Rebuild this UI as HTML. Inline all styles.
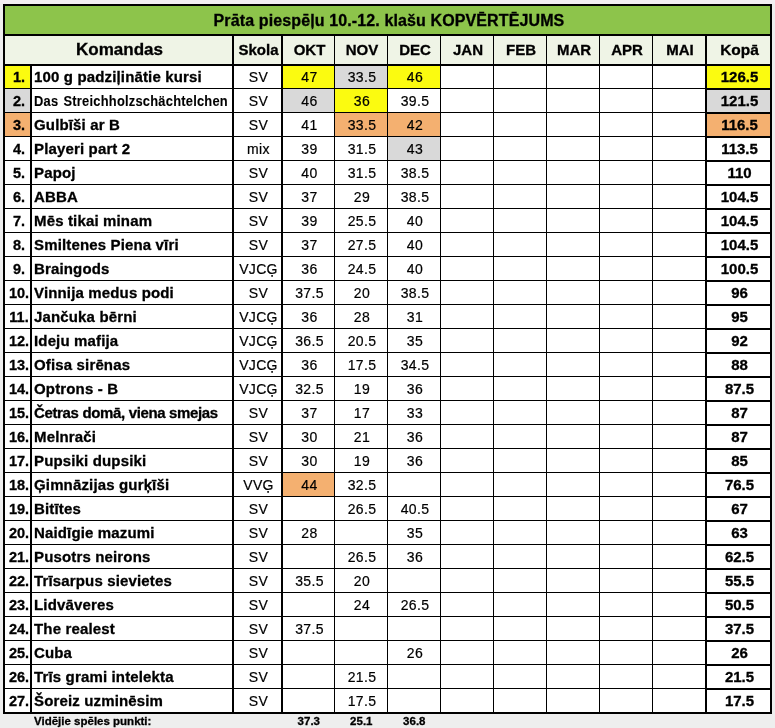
<!DOCTYPE html>
<html><head><meta charset="utf-8"><style>
html,body{margin:0;padding:0}
body{width:775px;height:728px;background:#eeeeee;position:relative;overflow:hidden;font-family:"Liberation Sans",sans-serif;color:#000}
.r{position:absolute}
.t{position:absolute;line-height:normal;white-space:nowrap}
.b{font-weight:bold;-webkit-text-stroke:0.3px #000}
.n{font-weight:normal;-webkit-text-stroke:0.2px #000;letter-spacing:0.35px}
</style></head><body>
<div class="r" style="left:0px;top:0px;width:775px;height:4px;background:#f2eff2"></div>
<div class="r" style="left:3px;top:4px;width:769px;height:710px;background:#000"></div>
<div class="r" style="left:5px;top:6px;width:765px;height:28px;background:#8dc44b"></div>
<div class="r" style="left:5px;top:36px;width:227px;height:28px;background:#eff4e6"></div>
<div class="r" style="left:234px;top:36px;width:47px;height:28px;background:#eff4e6"></div>
<div class="r" style="left:283px;top:36px;width:51px;height:28px;background:#eff4e6"></div>
<div class="r" style="left:335px;top:36px;width:52px;height:28px;background:#eff4e6"></div>
<div class="r" style="left:388px;top:36px;width:52px;height:28px;background:#eff4e6"></div>
<div class="r" style="left:441px;top:36px;width:52px;height:28px;background:#eff4e6"></div>
<div class="r" style="left:494px;top:36px;width:52px;height:28px;background:#eff4e6"></div>
<div class="r" style="left:547px;top:36px;width:52px;height:28px;background:#eff4e6"></div>
<div class="r" style="left:600px;top:36px;width:52px;height:28px;background:#eff4e6"></div>
<div class="r" style="left:653px;top:36px;width:52px;height:28px;background:#eff4e6"></div>
<div class="r" style="left:707px;top:36px;width:63px;height:28px;background:#eff4e6"></div>
<div class="r" style="left:5px;top:66px;width:25px;height:22px;background:#fbfb10"></div>
<div class="r" style="left:32px;top:66px;width:200px;height:22px;background:#fff"></div>
<div class="r" style="left:234px;top:66px;width:47px;height:22px;background:#fff"></div>
<div class="r" style="left:283px;top:66px;width:51px;height:22px;background:#fbfb10"></div>
<div class="r" style="left:335px;top:66px;width:52px;height:22px;background:#d9d9d9"></div>
<div class="r" style="left:388px;top:66px;width:52px;height:22px;background:#fbfb10"></div>
<div class="r" style="left:441px;top:66px;width:52px;height:22px;background:#fff"></div>
<div class="r" style="left:494px;top:66px;width:52px;height:22px;background:#fff"></div>
<div class="r" style="left:547px;top:66px;width:52px;height:22px;background:#fff"></div>
<div class="r" style="left:600px;top:66px;width:52px;height:22px;background:#fff"></div>
<div class="r" style="left:653px;top:66px;width:52px;height:22px;background:#fff"></div>
<div class="r" style="left:707px;top:66px;width:63px;height:22px;background:#fbfb10"></div>
<div class="r" style="left:5px;top:89px;width:25px;height:23px;background:#d9d9d9"></div>
<div class="r" style="left:32px;top:89px;width:200px;height:23px;background:#fff"></div>
<div class="r" style="left:234px;top:89px;width:47px;height:23px;background:#fff"></div>
<div class="r" style="left:283px;top:89px;width:51px;height:23px;background:#d9d9d9"></div>
<div class="r" style="left:335px;top:89px;width:52px;height:23px;background:#fbfb10"></div>
<div class="r" style="left:388px;top:89px;width:52px;height:23px;background:#fff"></div>
<div class="r" style="left:441px;top:89px;width:52px;height:23px;background:#fff"></div>
<div class="r" style="left:494px;top:89px;width:52px;height:23px;background:#fff"></div>
<div class="r" style="left:547px;top:89px;width:52px;height:23px;background:#fff"></div>
<div class="r" style="left:600px;top:89px;width:52px;height:23px;background:#fff"></div>
<div class="r" style="left:653px;top:89px;width:52px;height:23px;background:#fff"></div>
<div class="r" style="left:707px;top:90px;width:63px;height:22px;background:#d9d9d9"></div>
<div class="r" style="left:5px;top:113px;width:25px;height:23px;background:#f4b070"></div>
<div class="r" style="left:32px;top:113px;width:200px;height:23px;background:#fff"></div>
<div class="r" style="left:234px;top:113px;width:47px;height:23px;background:#fff"></div>
<div class="r" style="left:283px;top:113px;width:51px;height:23px;background:#fff"></div>
<div class="r" style="left:335px;top:113px;width:52px;height:23px;background:#f4b070"></div>
<div class="r" style="left:388px;top:113px;width:52px;height:23px;background:#f4b070"></div>
<div class="r" style="left:441px;top:113px;width:52px;height:23px;background:#fff"></div>
<div class="r" style="left:494px;top:113px;width:52px;height:23px;background:#fff"></div>
<div class="r" style="left:547px;top:113px;width:52px;height:23px;background:#fff"></div>
<div class="r" style="left:600px;top:113px;width:52px;height:23px;background:#fff"></div>
<div class="r" style="left:653px;top:113px;width:52px;height:23px;background:#fff"></div>
<div class="r" style="left:707px;top:114px;width:63px;height:22px;background:#f4b070"></div>
<div class="r" style="left:5px;top:137px;width:25px;height:23px;background:#fff"></div>
<div class="r" style="left:32px;top:137px;width:200px;height:23px;background:#fff"></div>
<div class="r" style="left:234px;top:137px;width:47px;height:23px;background:#fff"></div>
<div class="r" style="left:283px;top:137px;width:51px;height:23px;background:#fff"></div>
<div class="r" style="left:335px;top:137px;width:52px;height:23px;background:#fff"></div>
<div class="r" style="left:388px;top:137px;width:52px;height:23px;background:#d9d9d9"></div>
<div class="r" style="left:441px;top:137px;width:52px;height:23px;background:#fff"></div>
<div class="r" style="left:494px;top:137px;width:52px;height:23px;background:#fff"></div>
<div class="r" style="left:547px;top:137px;width:52px;height:23px;background:#fff"></div>
<div class="r" style="left:600px;top:137px;width:52px;height:23px;background:#fff"></div>
<div class="r" style="left:653px;top:137px;width:52px;height:23px;background:#fff"></div>
<div class="r" style="left:707px;top:138px;width:63px;height:22px;background:#fff"></div>
<div class="r" style="left:5px;top:161px;width:25px;height:23px;background:#fff"></div>
<div class="r" style="left:32px;top:161px;width:200px;height:23px;background:#fff"></div>
<div class="r" style="left:234px;top:161px;width:47px;height:23px;background:#fff"></div>
<div class="r" style="left:283px;top:161px;width:51px;height:23px;background:#fff"></div>
<div class="r" style="left:335px;top:161px;width:52px;height:23px;background:#fff"></div>
<div class="r" style="left:388px;top:161px;width:52px;height:23px;background:#fff"></div>
<div class="r" style="left:441px;top:161px;width:52px;height:23px;background:#fff"></div>
<div class="r" style="left:494px;top:161px;width:52px;height:23px;background:#fff"></div>
<div class="r" style="left:547px;top:161px;width:52px;height:23px;background:#fff"></div>
<div class="r" style="left:600px;top:161px;width:52px;height:23px;background:#fff"></div>
<div class="r" style="left:653px;top:161px;width:52px;height:23px;background:#fff"></div>
<div class="r" style="left:707px;top:162px;width:63px;height:22px;background:#fff"></div>
<div class="r" style="left:5px;top:185px;width:25px;height:23px;background:#fff"></div>
<div class="r" style="left:32px;top:185px;width:200px;height:23px;background:#fff"></div>
<div class="r" style="left:234px;top:185px;width:47px;height:23px;background:#fff"></div>
<div class="r" style="left:283px;top:185px;width:51px;height:23px;background:#fff"></div>
<div class="r" style="left:335px;top:185px;width:52px;height:23px;background:#fff"></div>
<div class="r" style="left:388px;top:185px;width:52px;height:23px;background:#fff"></div>
<div class="r" style="left:441px;top:185px;width:52px;height:23px;background:#fff"></div>
<div class="r" style="left:494px;top:185px;width:52px;height:23px;background:#fff"></div>
<div class="r" style="left:547px;top:185px;width:52px;height:23px;background:#fff"></div>
<div class="r" style="left:600px;top:185px;width:52px;height:23px;background:#fff"></div>
<div class="r" style="left:653px;top:185px;width:52px;height:23px;background:#fff"></div>
<div class="r" style="left:707px;top:186px;width:63px;height:22px;background:#fff"></div>
<div class="r" style="left:5px;top:209px;width:25px;height:23px;background:#fff"></div>
<div class="r" style="left:32px;top:209px;width:200px;height:23px;background:#fff"></div>
<div class="r" style="left:234px;top:209px;width:47px;height:23px;background:#fff"></div>
<div class="r" style="left:283px;top:209px;width:51px;height:23px;background:#fff"></div>
<div class="r" style="left:335px;top:209px;width:52px;height:23px;background:#fff"></div>
<div class="r" style="left:388px;top:209px;width:52px;height:23px;background:#fff"></div>
<div class="r" style="left:441px;top:209px;width:52px;height:23px;background:#fff"></div>
<div class="r" style="left:494px;top:209px;width:52px;height:23px;background:#fff"></div>
<div class="r" style="left:547px;top:209px;width:52px;height:23px;background:#fff"></div>
<div class="r" style="left:600px;top:209px;width:52px;height:23px;background:#fff"></div>
<div class="r" style="left:653px;top:209px;width:52px;height:23px;background:#fff"></div>
<div class="r" style="left:707px;top:210px;width:63px;height:22px;background:#fff"></div>
<div class="r" style="left:5px;top:233px;width:25px;height:23px;background:#fff"></div>
<div class="r" style="left:32px;top:233px;width:200px;height:23px;background:#fff"></div>
<div class="r" style="left:234px;top:233px;width:47px;height:23px;background:#fff"></div>
<div class="r" style="left:283px;top:233px;width:51px;height:23px;background:#fff"></div>
<div class="r" style="left:335px;top:233px;width:52px;height:23px;background:#fff"></div>
<div class="r" style="left:388px;top:233px;width:52px;height:23px;background:#fff"></div>
<div class="r" style="left:441px;top:233px;width:52px;height:23px;background:#fff"></div>
<div class="r" style="left:494px;top:233px;width:52px;height:23px;background:#fff"></div>
<div class="r" style="left:547px;top:233px;width:52px;height:23px;background:#fff"></div>
<div class="r" style="left:600px;top:233px;width:52px;height:23px;background:#fff"></div>
<div class="r" style="left:653px;top:233px;width:52px;height:23px;background:#fff"></div>
<div class="r" style="left:707px;top:234px;width:63px;height:22px;background:#fff"></div>
<div class="r" style="left:5px;top:257px;width:25px;height:23px;background:#fff"></div>
<div class="r" style="left:32px;top:257px;width:200px;height:23px;background:#fff"></div>
<div class="r" style="left:234px;top:257px;width:47px;height:23px;background:#fff"></div>
<div class="r" style="left:283px;top:257px;width:51px;height:23px;background:#fff"></div>
<div class="r" style="left:335px;top:257px;width:52px;height:23px;background:#fff"></div>
<div class="r" style="left:388px;top:257px;width:52px;height:23px;background:#fff"></div>
<div class="r" style="left:441px;top:257px;width:52px;height:23px;background:#fff"></div>
<div class="r" style="left:494px;top:257px;width:52px;height:23px;background:#fff"></div>
<div class="r" style="left:547px;top:257px;width:52px;height:23px;background:#fff"></div>
<div class="r" style="left:600px;top:257px;width:52px;height:23px;background:#fff"></div>
<div class="r" style="left:653px;top:257px;width:52px;height:23px;background:#fff"></div>
<div class="r" style="left:707px;top:258px;width:63px;height:22px;background:#fff"></div>
<div class="r" style="left:5px;top:281px;width:25px;height:23px;background:#fff"></div>
<div class="r" style="left:32px;top:281px;width:200px;height:23px;background:#fff"></div>
<div class="r" style="left:234px;top:281px;width:47px;height:23px;background:#fff"></div>
<div class="r" style="left:283px;top:281px;width:51px;height:23px;background:#fff"></div>
<div class="r" style="left:335px;top:281px;width:52px;height:23px;background:#fff"></div>
<div class="r" style="left:388px;top:281px;width:52px;height:23px;background:#fff"></div>
<div class="r" style="left:441px;top:281px;width:52px;height:23px;background:#fff"></div>
<div class="r" style="left:494px;top:281px;width:52px;height:23px;background:#fff"></div>
<div class="r" style="left:547px;top:281px;width:52px;height:23px;background:#fff"></div>
<div class="r" style="left:600px;top:281px;width:52px;height:23px;background:#fff"></div>
<div class="r" style="left:653px;top:281px;width:52px;height:23px;background:#fff"></div>
<div class="r" style="left:707px;top:282px;width:63px;height:22px;background:#fff"></div>
<div class="r" style="left:5px;top:305px;width:25px;height:23px;background:#fff"></div>
<div class="r" style="left:32px;top:305px;width:200px;height:23px;background:#fff"></div>
<div class="r" style="left:234px;top:305px;width:47px;height:23px;background:#fff"></div>
<div class="r" style="left:283px;top:305px;width:51px;height:23px;background:#fff"></div>
<div class="r" style="left:335px;top:305px;width:52px;height:23px;background:#fff"></div>
<div class="r" style="left:388px;top:305px;width:52px;height:23px;background:#fff"></div>
<div class="r" style="left:441px;top:305px;width:52px;height:23px;background:#fff"></div>
<div class="r" style="left:494px;top:305px;width:52px;height:23px;background:#fff"></div>
<div class="r" style="left:547px;top:305px;width:52px;height:23px;background:#fff"></div>
<div class="r" style="left:600px;top:305px;width:52px;height:23px;background:#fff"></div>
<div class="r" style="left:653px;top:305px;width:52px;height:23px;background:#fff"></div>
<div class="r" style="left:707px;top:306px;width:63px;height:22px;background:#fff"></div>
<div class="r" style="left:5px;top:329px;width:25px;height:23px;background:#fff"></div>
<div class="r" style="left:32px;top:329px;width:200px;height:23px;background:#fff"></div>
<div class="r" style="left:234px;top:329px;width:47px;height:23px;background:#fff"></div>
<div class="r" style="left:283px;top:329px;width:51px;height:23px;background:#fff"></div>
<div class="r" style="left:335px;top:329px;width:52px;height:23px;background:#fff"></div>
<div class="r" style="left:388px;top:329px;width:52px;height:23px;background:#fff"></div>
<div class="r" style="left:441px;top:329px;width:52px;height:23px;background:#fff"></div>
<div class="r" style="left:494px;top:329px;width:52px;height:23px;background:#fff"></div>
<div class="r" style="left:547px;top:329px;width:52px;height:23px;background:#fff"></div>
<div class="r" style="left:600px;top:329px;width:52px;height:23px;background:#fff"></div>
<div class="r" style="left:653px;top:329px;width:52px;height:23px;background:#fff"></div>
<div class="r" style="left:707px;top:330px;width:63px;height:22px;background:#fff"></div>
<div class="r" style="left:5px;top:353px;width:25px;height:23px;background:#fff"></div>
<div class="r" style="left:32px;top:353px;width:200px;height:23px;background:#fff"></div>
<div class="r" style="left:234px;top:353px;width:47px;height:23px;background:#fff"></div>
<div class="r" style="left:283px;top:353px;width:51px;height:23px;background:#fff"></div>
<div class="r" style="left:335px;top:353px;width:52px;height:23px;background:#fff"></div>
<div class="r" style="left:388px;top:353px;width:52px;height:23px;background:#fff"></div>
<div class="r" style="left:441px;top:353px;width:52px;height:23px;background:#fff"></div>
<div class="r" style="left:494px;top:353px;width:52px;height:23px;background:#fff"></div>
<div class="r" style="left:547px;top:353px;width:52px;height:23px;background:#fff"></div>
<div class="r" style="left:600px;top:353px;width:52px;height:23px;background:#fff"></div>
<div class="r" style="left:653px;top:353px;width:52px;height:23px;background:#fff"></div>
<div class="r" style="left:707px;top:354px;width:63px;height:22px;background:#fff"></div>
<div class="r" style="left:5px;top:377px;width:25px;height:23px;background:#fff"></div>
<div class="r" style="left:32px;top:377px;width:200px;height:23px;background:#fff"></div>
<div class="r" style="left:234px;top:377px;width:47px;height:23px;background:#fff"></div>
<div class="r" style="left:283px;top:377px;width:51px;height:23px;background:#fff"></div>
<div class="r" style="left:335px;top:377px;width:52px;height:23px;background:#fff"></div>
<div class="r" style="left:388px;top:377px;width:52px;height:23px;background:#fff"></div>
<div class="r" style="left:441px;top:377px;width:52px;height:23px;background:#fff"></div>
<div class="r" style="left:494px;top:377px;width:52px;height:23px;background:#fff"></div>
<div class="r" style="left:547px;top:377px;width:52px;height:23px;background:#fff"></div>
<div class="r" style="left:600px;top:377px;width:52px;height:23px;background:#fff"></div>
<div class="r" style="left:653px;top:377px;width:52px;height:23px;background:#fff"></div>
<div class="r" style="left:707px;top:378px;width:63px;height:22px;background:#fff"></div>
<div class="r" style="left:5px;top:401px;width:25px;height:23px;background:#fff"></div>
<div class="r" style="left:32px;top:401px;width:200px;height:23px;background:#fff"></div>
<div class="r" style="left:234px;top:401px;width:47px;height:23px;background:#fff"></div>
<div class="r" style="left:283px;top:401px;width:51px;height:23px;background:#fff"></div>
<div class="r" style="left:335px;top:401px;width:52px;height:23px;background:#fff"></div>
<div class="r" style="left:388px;top:401px;width:52px;height:23px;background:#fff"></div>
<div class="r" style="left:441px;top:401px;width:52px;height:23px;background:#fff"></div>
<div class="r" style="left:494px;top:401px;width:52px;height:23px;background:#fff"></div>
<div class="r" style="left:547px;top:401px;width:52px;height:23px;background:#fff"></div>
<div class="r" style="left:600px;top:401px;width:52px;height:23px;background:#fff"></div>
<div class="r" style="left:653px;top:401px;width:52px;height:23px;background:#fff"></div>
<div class="r" style="left:707px;top:402px;width:63px;height:22px;background:#fff"></div>
<div class="r" style="left:5px;top:425px;width:25px;height:23px;background:#fff"></div>
<div class="r" style="left:32px;top:425px;width:200px;height:23px;background:#fff"></div>
<div class="r" style="left:234px;top:425px;width:47px;height:23px;background:#fff"></div>
<div class="r" style="left:283px;top:425px;width:51px;height:23px;background:#fff"></div>
<div class="r" style="left:335px;top:425px;width:52px;height:23px;background:#fff"></div>
<div class="r" style="left:388px;top:425px;width:52px;height:23px;background:#fff"></div>
<div class="r" style="left:441px;top:425px;width:52px;height:23px;background:#fff"></div>
<div class="r" style="left:494px;top:425px;width:52px;height:23px;background:#fff"></div>
<div class="r" style="left:547px;top:425px;width:52px;height:23px;background:#fff"></div>
<div class="r" style="left:600px;top:425px;width:52px;height:23px;background:#fff"></div>
<div class="r" style="left:653px;top:425px;width:52px;height:23px;background:#fff"></div>
<div class="r" style="left:707px;top:426px;width:63px;height:22px;background:#fff"></div>
<div class="r" style="left:5px;top:449px;width:25px;height:23px;background:#fff"></div>
<div class="r" style="left:32px;top:449px;width:200px;height:23px;background:#fff"></div>
<div class="r" style="left:234px;top:449px;width:47px;height:23px;background:#fff"></div>
<div class="r" style="left:283px;top:449px;width:51px;height:23px;background:#fff"></div>
<div class="r" style="left:335px;top:449px;width:52px;height:23px;background:#fff"></div>
<div class="r" style="left:388px;top:449px;width:52px;height:23px;background:#fff"></div>
<div class="r" style="left:441px;top:449px;width:52px;height:23px;background:#fff"></div>
<div class="r" style="left:494px;top:449px;width:52px;height:23px;background:#fff"></div>
<div class="r" style="left:547px;top:449px;width:52px;height:23px;background:#fff"></div>
<div class="r" style="left:600px;top:449px;width:52px;height:23px;background:#fff"></div>
<div class="r" style="left:653px;top:449px;width:52px;height:23px;background:#fff"></div>
<div class="r" style="left:707px;top:450px;width:63px;height:22px;background:#fff"></div>
<div class="r" style="left:5px;top:473px;width:25px;height:23px;background:#fff"></div>
<div class="r" style="left:32px;top:473px;width:200px;height:23px;background:#fff"></div>
<div class="r" style="left:234px;top:473px;width:47px;height:23px;background:#fff"></div>
<div class="r" style="left:283px;top:473px;width:51px;height:23px;background:#f4b070"></div>
<div class="r" style="left:335px;top:473px;width:52px;height:23px;background:#fff"></div>
<div class="r" style="left:388px;top:473px;width:52px;height:23px;background:#fff"></div>
<div class="r" style="left:441px;top:473px;width:52px;height:23px;background:#fff"></div>
<div class="r" style="left:494px;top:473px;width:52px;height:23px;background:#fff"></div>
<div class="r" style="left:547px;top:473px;width:52px;height:23px;background:#fff"></div>
<div class="r" style="left:600px;top:473px;width:52px;height:23px;background:#fff"></div>
<div class="r" style="left:653px;top:473px;width:52px;height:23px;background:#fff"></div>
<div class="r" style="left:707px;top:474px;width:63px;height:22px;background:#fff"></div>
<div class="r" style="left:5px;top:497px;width:25px;height:23px;background:#fff"></div>
<div class="r" style="left:32px;top:497px;width:200px;height:23px;background:#fff"></div>
<div class="r" style="left:234px;top:497px;width:47px;height:23px;background:#fff"></div>
<div class="r" style="left:283px;top:497px;width:51px;height:23px;background:#fff"></div>
<div class="r" style="left:335px;top:497px;width:52px;height:23px;background:#fff"></div>
<div class="r" style="left:388px;top:497px;width:52px;height:23px;background:#fff"></div>
<div class="r" style="left:441px;top:497px;width:52px;height:23px;background:#fff"></div>
<div class="r" style="left:494px;top:497px;width:52px;height:23px;background:#fff"></div>
<div class="r" style="left:547px;top:497px;width:52px;height:23px;background:#fff"></div>
<div class="r" style="left:600px;top:497px;width:52px;height:23px;background:#fff"></div>
<div class="r" style="left:653px;top:497px;width:52px;height:23px;background:#fff"></div>
<div class="r" style="left:707px;top:498px;width:63px;height:22px;background:#fff"></div>
<div class="r" style="left:5px;top:521px;width:25px;height:23px;background:#fff"></div>
<div class="r" style="left:32px;top:521px;width:200px;height:23px;background:#fff"></div>
<div class="r" style="left:234px;top:521px;width:47px;height:23px;background:#fff"></div>
<div class="r" style="left:283px;top:521px;width:51px;height:23px;background:#fff"></div>
<div class="r" style="left:335px;top:521px;width:52px;height:23px;background:#fff"></div>
<div class="r" style="left:388px;top:521px;width:52px;height:23px;background:#fff"></div>
<div class="r" style="left:441px;top:521px;width:52px;height:23px;background:#fff"></div>
<div class="r" style="left:494px;top:521px;width:52px;height:23px;background:#fff"></div>
<div class="r" style="left:547px;top:521px;width:52px;height:23px;background:#fff"></div>
<div class="r" style="left:600px;top:521px;width:52px;height:23px;background:#fff"></div>
<div class="r" style="left:653px;top:521px;width:52px;height:23px;background:#fff"></div>
<div class="r" style="left:707px;top:522px;width:63px;height:22px;background:#fff"></div>
<div class="r" style="left:5px;top:545px;width:25px;height:23px;background:#fff"></div>
<div class="r" style="left:32px;top:545px;width:200px;height:23px;background:#fff"></div>
<div class="r" style="left:234px;top:545px;width:47px;height:23px;background:#fff"></div>
<div class="r" style="left:283px;top:545px;width:51px;height:23px;background:#fff"></div>
<div class="r" style="left:335px;top:545px;width:52px;height:23px;background:#fff"></div>
<div class="r" style="left:388px;top:545px;width:52px;height:23px;background:#fff"></div>
<div class="r" style="left:441px;top:545px;width:52px;height:23px;background:#fff"></div>
<div class="r" style="left:494px;top:545px;width:52px;height:23px;background:#fff"></div>
<div class="r" style="left:547px;top:545px;width:52px;height:23px;background:#fff"></div>
<div class="r" style="left:600px;top:545px;width:52px;height:23px;background:#fff"></div>
<div class="r" style="left:653px;top:545px;width:52px;height:23px;background:#fff"></div>
<div class="r" style="left:707px;top:546px;width:63px;height:22px;background:#fff"></div>
<div class="r" style="left:5px;top:569px;width:25px;height:23px;background:#fff"></div>
<div class="r" style="left:32px;top:569px;width:200px;height:23px;background:#fff"></div>
<div class="r" style="left:234px;top:569px;width:47px;height:23px;background:#fff"></div>
<div class="r" style="left:283px;top:569px;width:51px;height:23px;background:#fff"></div>
<div class="r" style="left:335px;top:569px;width:52px;height:23px;background:#fff"></div>
<div class="r" style="left:388px;top:569px;width:52px;height:23px;background:#fff"></div>
<div class="r" style="left:441px;top:569px;width:52px;height:23px;background:#fff"></div>
<div class="r" style="left:494px;top:569px;width:52px;height:23px;background:#fff"></div>
<div class="r" style="left:547px;top:569px;width:52px;height:23px;background:#fff"></div>
<div class="r" style="left:600px;top:569px;width:52px;height:23px;background:#fff"></div>
<div class="r" style="left:653px;top:569px;width:52px;height:23px;background:#fff"></div>
<div class="r" style="left:707px;top:570px;width:63px;height:22px;background:#fff"></div>
<div class="r" style="left:5px;top:593px;width:25px;height:23px;background:#fff"></div>
<div class="r" style="left:32px;top:593px;width:200px;height:23px;background:#fff"></div>
<div class="r" style="left:234px;top:593px;width:47px;height:23px;background:#fff"></div>
<div class="r" style="left:283px;top:593px;width:51px;height:23px;background:#fff"></div>
<div class="r" style="left:335px;top:593px;width:52px;height:23px;background:#fff"></div>
<div class="r" style="left:388px;top:593px;width:52px;height:23px;background:#fff"></div>
<div class="r" style="left:441px;top:593px;width:52px;height:23px;background:#fff"></div>
<div class="r" style="left:494px;top:593px;width:52px;height:23px;background:#fff"></div>
<div class="r" style="left:547px;top:593px;width:52px;height:23px;background:#fff"></div>
<div class="r" style="left:600px;top:593px;width:52px;height:23px;background:#fff"></div>
<div class="r" style="left:653px;top:593px;width:52px;height:23px;background:#fff"></div>
<div class="r" style="left:707px;top:594px;width:63px;height:22px;background:#fff"></div>
<div class="r" style="left:5px;top:617px;width:25px;height:23px;background:#fff"></div>
<div class="r" style="left:32px;top:617px;width:200px;height:23px;background:#fff"></div>
<div class="r" style="left:234px;top:617px;width:47px;height:23px;background:#fff"></div>
<div class="r" style="left:283px;top:617px;width:51px;height:23px;background:#fff"></div>
<div class="r" style="left:335px;top:617px;width:52px;height:23px;background:#fff"></div>
<div class="r" style="left:388px;top:617px;width:52px;height:23px;background:#fff"></div>
<div class="r" style="left:441px;top:617px;width:52px;height:23px;background:#fff"></div>
<div class="r" style="left:494px;top:617px;width:52px;height:23px;background:#fff"></div>
<div class="r" style="left:547px;top:617px;width:52px;height:23px;background:#fff"></div>
<div class="r" style="left:600px;top:617px;width:52px;height:23px;background:#fff"></div>
<div class="r" style="left:653px;top:617px;width:52px;height:23px;background:#fff"></div>
<div class="r" style="left:707px;top:618px;width:63px;height:22px;background:#fff"></div>
<div class="r" style="left:5px;top:641px;width:25px;height:23px;background:#fff"></div>
<div class="r" style="left:32px;top:641px;width:200px;height:23px;background:#fff"></div>
<div class="r" style="left:234px;top:641px;width:47px;height:23px;background:#fff"></div>
<div class="r" style="left:283px;top:641px;width:51px;height:23px;background:#fff"></div>
<div class="r" style="left:335px;top:641px;width:52px;height:23px;background:#fff"></div>
<div class="r" style="left:388px;top:641px;width:52px;height:23px;background:#fff"></div>
<div class="r" style="left:441px;top:641px;width:52px;height:23px;background:#fff"></div>
<div class="r" style="left:494px;top:641px;width:52px;height:23px;background:#fff"></div>
<div class="r" style="left:547px;top:641px;width:52px;height:23px;background:#fff"></div>
<div class="r" style="left:600px;top:641px;width:52px;height:23px;background:#fff"></div>
<div class="r" style="left:653px;top:641px;width:52px;height:23px;background:#fff"></div>
<div class="r" style="left:707px;top:642px;width:63px;height:22px;background:#fff"></div>
<div class="r" style="left:5px;top:665px;width:25px;height:23px;background:#fff"></div>
<div class="r" style="left:32px;top:665px;width:200px;height:23px;background:#fff"></div>
<div class="r" style="left:234px;top:665px;width:47px;height:23px;background:#fff"></div>
<div class="r" style="left:283px;top:665px;width:51px;height:23px;background:#fff"></div>
<div class="r" style="left:335px;top:665px;width:52px;height:23px;background:#fff"></div>
<div class="r" style="left:388px;top:665px;width:52px;height:23px;background:#fff"></div>
<div class="r" style="left:441px;top:665px;width:52px;height:23px;background:#fff"></div>
<div class="r" style="left:494px;top:665px;width:52px;height:23px;background:#fff"></div>
<div class="r" style="left:547px;top:665px;width:52px;height:23px;background:#fff"></div>
<div class="r" style="left:600px;top:665px;width:52px;height:23px;background:#fff"></div>
<div class="r" style="left:653px;top:665px;width:52px;height:23px;background:#fff"></div>
<div class="r" style="left:707px;top:666px;width:63px;height:22px;background:#fff"></div>
<div class="r" style="left:5px;top:689px;width:25px;height:23px;background:#fff"></div>
<div class="r" style="left:32px;top:689px;width:200px;height:23px;background:#fff"></div>
<div class="r" style="left:234px;top:689px;width:47px;height:23px;background:#fff"></div>
<div class="r" style="left:283px;top:689px;width:51px;height:23px;background:#fff"></div>
<div class="r" style="left:335px;top:689px;width:52px;height:23px;background:#fff"></div>
<div class="r" style="left:388px;top:689px;width:52px;height:23px;background:#fff"></div>
<div class="r" style="left:441px;top:689px;width:52px;height:23px;background:#fff"></div>
<div class="r" style="left:494px;top:689px;width:52px;height:23px;background:#fff"></div>
<div class="r" style="left:547px;top:689px;width:52px;height:23px;background:#fff"></div>
<div class="r" style="left:600px;top:689px;width:52px;height:23px;background:#fff"></div>
<div class="r" style="left:653px;top:689px;width:52px;height:23px;background:#fff"></div>
<div class="r" style="left:707px;top:690px;width:63px;height:22px;background:#fff"></div>
<div class="t b" style="left:6px;width:766px;top:12px;font-size:16px;text-align:center;letter-spacing:0.12px">Prāta piespēļu 10.-12. klašu KOPVĒRTĒJUMS</div>
<div class="t b" style="left:6px;width:227px;top:40px;font-size:17px;text-align:center;">Komandas</div>
<div class="t b" style="left:235px;width:47px;top:41px;font-size:15px;text-align:center;">Skola</div>
<div class="t b" style="left:284px;width:51px;top:41px;font-size:15px;text-align:center;">OKT</div>
<div class="t b" style="left:336px;width:52px;top:41px;font-size:15px;text-align:center;">NOV</div>
<div class="t b" style="left:389px;width:52px;top:41px;font-size:15px;text-align:center;">DEC</div>
<div class="t b" style="left:442px;width:52px;top:41px;font-size:15px;text-align:center;">JAN</div>
<div class="t b" style="left:495px;width:52px;top:41px;font-size:15px;text-align:center;">FEB</div>
<div class="t b" style="left:548px;width:52px;top:41px;font-size:15px;text-align:center;">MAR</div>
<div class="t b" style="left:601px;width:52px;top:41px;font-size:15px;text-align:center;">APR</div>
<div class="t b" style="left:654px;width:52px;top:41px;font-size:15px;text-align:center;">MAI</div>
<div class="t b" style="left:708px;width:63px;top:41px;font-size:15.5px;text-align:center;">Kopā</div>
<div class="t b" style="left:6px;width:26px;top:69px;font-size:14.5px;text-align:center;">1.</div>
<div class="t b" style="left:34px;width:198px;top:68px;font-size:15px;text-align:left;letter-spacing:0.15px">100 g padziļinātie kursi</div>
<div class="t n" style="left:235px;width:47px;top:69px;font-size:14px;text-align:center;">SV</div>
<div class="t n" style="left:284px;width:51px;top:69px;font-size:14px;text-align:center;">47</div>
<div class="t n" style="left:336px;width:52px;top:69px;font-size:14px;text-align:center;">33.5</div>
<div class="t n" style="left:389px;width:52px;top:69px;font-size:14px;text-align:center;">46</div>
<div class="t b" style="left:708px;width:63px;top:68px;font-size:15px;text-align:center;">126.5</div>
<div class="t b" style="left:6px;width:26px;top:93px;font-size:14.5px;text-align:center;">2.</div>
<div class="t b" style="left:34px;width:198px;top:93px;font-size:14px;text-align:left;letter-spacing:0.25px;word-spacing:1.5px;transform:scaleX(0.92);transform-origin:0 0;-webkit-text-stroke:0.1px #000">Das Streichholzschächtelchen</div>
<div class="t n" style="left:235px;width:47px;top:93px;font-size:14px;text-align:center;">SV</div>
<div class="t n" style="left:284px;width:51px;top:93px;font-size:14px;text-align:center;">46</div>
<div class="t n" style="left:336px;width:52px;top:93px;font-size:14px;text-align:center;">36</div>
<div class="t n" style="left:389px;width:52px;top:93px;font-size:14px;text-align:center;">39.5</div>
<div class="t b" style="left:708px;width:63px;top:92px;font-size:15px;text-align:center;">121.5</div>
<div class="t b" style="left:6px;width:26px;top:117px;font-size:14.5px;text-align:center;">3.</div>
<div class="t b" style="left:34px;width:198px;top:116px;font-size:15px;text-align:left;letter-spacing:0.15px">Gulbīši ar B</div>
<div class="t n" style="left:235px;width:47px;top:117px;font-size:14px;text-align:center;">SV</div>
<div class="t n" style="left:284px;width:51px;top:117px;font-size:14px;text-align:center;">41</div>
<div class="t n" style="left:336px;width:52px;top:117px;font-size:14px;text-align:center;">33.5</div>
<div class="t n" style="left:389px;width:52px;top:117px;font-size:14px;text-align:center;">42</div>
<div class="t b" style="left:708px;width:63px;top:116px;font-size:15px;text-align:center;">116.5</div>
<div class="t b" style="left:6px;width:26px;top:141px;font-size:14.5px;text-align:center;">4.</div>
<div class="t b" style="left:34px;width:198px;top:140px;font-size:15px;text-align:left;letter-spacing:0.15px">Playeri part 2</div>
<div class="t n" style="left:235px;width:47px;top:141px;font-size:14px;text-align:center;">mix</div>
<div class="t n" style="left:284px;width:51px;top:141px;font-size:14px;text-align:center;">39</div>
<div class="t n" style="left:336px;width:52px;top:141px;font-size:14px;text-align:center;">31.5</div>
<div class="t n" style="left:389px;width:52px;top:141px;font-size:14px;text-align:center;">43</div>
<div class="t b" style="left:708px;width:63px;top:140px;font-size:15px;text-align:center;">113.5</div>
<div class="t b" style="left:6px;width:26px;top:165px;font-size:14.5px;text-align:center;">5.</div>
<div class="t b" style="left:34px;width:198px;top:164px;font-size:15px;text-align:left;letter-spacing:0.15px">Papoj</div>
<div class="t n" style="left:235px;width:47px;top:165px;font-size:14px;text-align:center;">SV</div>
<div class="t n" style="left:284px;width:51px;top:165px;font-size:14px;text-align:center;">40</div>
<div class="t n" style="left:336px;width:52px;top:165px;font-size:14px;text-align:center;">31.5</div>
<div class="t n" style="left:389px;width:52px;top:165px;font-size:14px;text-align:center;">38.5</div>
<div class="t b" style="left:708px;width:63px;top:164px;font-size:15px;text-align:center;">110</div>
<div class="t b" style="left:6px;width:26px;top:189px;font-size:14.5px;text-align:center;">6.</div>
<div class="t b" style="left:34px;width:198px;top:188px;font-size:15px;text-align:left;letter-spacing:0.15px">ABBA</div>
<div class="t n" style="left:235px;width:47px;top:189px;font-size:14px;text-align:center;">SV</div>
<div class="t n" style="left:284px;width:51px;top:189px;font-size:14px;text-align:center;">37</div>
<div class="t n" style="left:336px;width:52px;top:189px;font-size:14px;text-align:center;">29</div>
<div class="t n" style="left:389px;width:52px;top:189px;font-size:14px;text-align:center;">38.5</div>
<div class="t b" style="left:708px;width:63px;top:188px;font-size:15px;text-align:center;">104.5</div>
<div class="t b" style="left:6px;width:26px;top:213px;font-size:14.5px;text-align:center;">7.</div>
<div class="t b" style="left:34px;width:198px;top:212px;font-size:15px;text-align:left;letter-spacing:0.15px">Mēs tikai minam</div>
<div class="t n" style="left:235px;width:47px;top:213px;font-size:14px;text-align:center;">SV</div>
<div class="t n" style="left:284px;width:51px;top:213px;font-size:14px;text-align:center;">39</div>
<div class="t n" style="left:336px;width:52px;top:213px;font-size:14px;text-align:center;">25.5</div>
<div class="t n" style="left:389px;width:52px;top:213px;font-size:14px;text-align:center;">40</div>
<div class="t b" style="left:708px;width:63px;top:212px;font-size:15px;text-align:center;">104.5</div>
<div class="t b" style="left:6px;width:26px;top:237px;font-size:14.5px;text-align:center;">8.</div>
<div class="t b" style="left:34px;width:198px;top:236px;font-size:15px;text-align:left;letter-spacing:0.15px">Smiltenes Piena vīri</div>
<div class="t n" style="left:235px;width:47px;top:237px;font-size:14px;text-align:center;">SV</div>
<div class="t n" style="left:284px;width:51px;top:237px;font-size:14px;text-align:center;">37</div>
<div class="t n" style="left:336px;width:52px;top:237px;font-size:14px;text-align:center;">27.5</div>
<div class="t n" style="left:389px;width:52px;top:237px;font-size:14px;text-align:center;">40</div>
<div class="t b" style="left:708px;width:63px;top:236px;font-size:15px;text-align:center;">104.5</div>
<div class="t b" style="left:6px;width:26px;top:261px;font-size:14.5px;text-align:center;">9.</div>
<div class="t b" style="left:34px;width:198px;top:260px;font-size:15px;text-align:left;letter-spacing:0.15px">Braingods</div>
<div class="t n" style="left:235px;width:47px;top:261px;font-size:14px;text-align:center;">VJCĢ</div>
<div class="t n" style="left:284px;width:51px;top:261px;font-size:14px;text-align:center;">36</div>
<div class="t n" style="left:336px;width:52px;top:261px;font-size:14px;text-align:center;">24.5</div>
<div class="t n" style="left:389px;width:52px;top:261px;font-size:14px;text-align:center;">40</div>
<div class="t b" style="left:708px;width:63px;top:260px;font-size:15px;text-align:center;">100.5</div>
<div class="t b" style="left:6px;width:26px;top:285px;font-size:14.5px;text-align:center;">10.</div>
<div class="t b" style="left:34px;width:198px;top:284px;font-size:15px;text-align:left;letter-spacing:0.15px">Vinnija medus podi</div>
<div class="t n" style="left:235px;width:47px;top:285px;font-size:14px;text-align:center;">SV</div>
<div class="t n" style="left:284px;width:51px;top:285px;font-size:14px;text-align:center;">37.5</div>
<div class="t n" style="left:336px;width:52px;top:285px;font-size:14px;text-align:center;">20</div>
<div class="t n" style="left:389px;width:52px;top:285px;font-size:14px;text-align:center;">38.5</div>
<div class="t b" style="left:708px;width:63px;top:284px;font-size:15px;text-align:center;">96</div>
<div class="t b" style="left:6px;width:26px;top:309px;font-size:14.5px;text-align:center;">11.</div>
<div class="t b" style="left:34px;width:198px;top:308px;font-size:15px;text-align:left;letter-spacing:0.15px">Jančuka bērni</div>
<div class="t n" style="left:235px;width:47px;top:309px;font-size:14px;text-align:center;">VJCĢ</div>
<div class="t n" style="left:284px;width:51px;top:309px;font-size:14px;text-align:center;">36</div>
<div class="t n" style="left:336px;width:52px;top:309px;font-size:14px;text-align:center;">28</div>
<div class="t n" style="left:389px;width:52px;top:309px;font-size:14px;text-align:center;">31</div>
<div class="t b" style="left:708px;width:63px;top:308px;font-size:15px;text-align:center;">95</div>
<div class="t b" style="left:6px;width:26px;top:333px;font-size:14.5px;text-align:center;">12.</div>
<div class="t b" style="left:34px;width:198px;top:332px;font-size:15px;text-align:left;letter-spacing:0.15px">Ideju mafija</div>
<div class="t n" style="left:235px;width:47px;top:333px;font-size:14px;text-align:center;">VJCĢ</div>
<div class="t n" style="left:284px;width:51px;top:333px;font-size:14px;text-align:center;">36.5</div>
<div class="t n" style="left:336px;width:52px;top:333px;font-size:14px;text-align:center;">20.5</div>
<div class="t n" style="left:389px;width:52px;top:333px;font-size:14px;text-align:center;">35</div>
<div class="t b" style="left:708px;width:63px;top:332px;font-size:15px;text-align:center;">92</div>
<div class="t b" style="left:6px;width:26px;top:357px;font-size:14.5px;text-align:center;">13.</div>
<div class="t b" style="left:34px;width:198px;top:356px;font-size:15px;text-align:left;letter-spacing:0.15px">Ofisa sirēnas</div>
<div class="t n" style="left:235px;width:47px;top:357px;font-size:14px;text-align:center;">VJCĢ</div>
<div class="t n" style="left:284px;width:51px;top:357px;font-size:14px;text-align:center;">36</div>
<div class="t n" style="left:336px;width:52px;top:357px;font-size:14px;text-align:center;">17.5</div>
<div class="t n" style="left:389px;width:52px;top:357px;font-size:14px;text-align:center;">34.5</div>
<div class="t b" style="left:708px;width:63px;top:356px;font-size:15px;text-align:center;">88</div>
<div class="t b" style="left:6px;width:26px;top:381px;font-size:14.5px;text-align:center;">14.</div>
<div class="t b" style="left:34px;width:198px;top:380px;font-size:15px;text-align:left;letter-spacing:0.15px">Optrons - B</div>
<div class="t n" style="left:235px;width:47px;top:381px;font-size:14px;text-align:center;">VJCĢ</div>
<div class="t n" style="left:284px;width:51px;top:381px;font-size:14px;text-align:center;">32.5</div>
<div class="t n" style="left:336px;width:52px;top:381px;font-size:14px;text-align:center;">19</div>
<div class="t n" style="left:389px;width:52px;top:381px;font-size:14px;text-align:center;">36</div>
<div class="t b" style="left:708px;width:63px;top:380px;font-size:15px;text-align:center;">87.5</div>
<div class="t b" style="left:6px;width:26px;top:405px;font-size:14.5px;text-align:center;">15.</div>
<div class="t b" style="left:34px;width:198px;top:404px;font-size:15px;text-align:left;letter-spacing:-0.35px">Četras domā, viena smejas</div>
<div class="t n" style="left:235px;width:47px;top:405px;font-size:14px;text-align:center;">SV</div>
<div class="t n" style="left:284px;width:51px;top:405px;font-size:14px;text-align:center;">37</div>
<div class="t n" style="left:336px;width:52px;top:405px;font-size:14px;text-align:center;">17</div>
<div class="t n" style="left:389px;width:52px;top:405px;font-size:14px;text-align:center;">33</div>
<div class="t b" style="left:708px;width:63px;top:404px;font-size:15px;text-align:center;">87</div>
<div class="t b" style="left:6px;width:26px;top:429px;font-size:14.5px;text-align:center;">16.</div>
<div class="t b" style="left:34px;width:198px;top:428px;font-size:15px;text-align:left;letter-spacing:0.15px">Melnrači</div>
<div class="t n" style="left:235px;width:47px;top:429px;font-size:14px;text-align:center;">SV</div>
<div class="t n" style="left:284px;width:51px;top:429px;font-size:14px;text-align:center;">30</div>
<div class="t n" style="left:336px;width:52px;top:429px;font-size:14px;text-align:center;">21</div>
<div class="t n" style="left:389px;width:52px;top:429px;font-size:14px;text-align:center;">36</div>
<div class="t b" style="left:708px;width:63px;top:428px;font-size:15px;text-align:center;">87</div>
<div class="t b" style="left:6px;width:26px;top:453px;font-size:14.5px;text-align:center;">17.</div>
<div class="t b" style="left:34px;width:198px;top:452px;font-size:15px;text-align:left;letter-spacing:0.15px">Pupsiki dupsiki</div>
<div class="t n" style="left:235px;width:47px;top:453px;font-size:14px;text-align:center;">SV</div>
<div class="t n" style="left:284px;width:51px;top:453px;font-size:14px;text-align:center;">30</div>
<div class="t n" style="left:336px;width:52px;top:453px;font-size:14px;text-align:center;">19</div>
<div class="t n" style="left:389px;width:52px;top:453px;font-size:14px;text-align:center;">36</div>
<div class="t b" style="left:708px;width:63px;top:452px;font-size:15px;text-align:center;">85</div>
<div class="t b" style="left:6px;width:26px;top:477px;font-size:14.5px;text-align:center;">18.</div>
<div class="t b" style="left:34px;width:198px;top:476px;font-size:15px;text-align:left;letter-spacing:0.15px">Ģimnāzijas gurķīši</div>
<div class="t n" style="left:235px;width:47px;top:477px;font-size:14px;text-align:center;">VVĢ</div>
<div class="t n" style="left:284px;width:51px;top:477px;font-size:14px;text-align:center;">44</div>
<div class="t n" style="left:336px;width:52px;top:477px;font-size:14px;text-align:center;">32.5</div>
<div class="t b" style="left:708px;width:63px;top:476px;font-size:15px;text-align:center;">76.5</div>
<div class="t b" style="left:6px;width:26px;top:501px;font-size:14.5px;text-align:center;">19.</div>
<div class="t b" style="left:34px;width:198px;top:500px;font-size:15px;text-align:left;letter-spacing:0.15px">Bitītes</div>
<div class="t n" style="left:235px;width:47px;top:501px;font-size:14px;text-align:center;">SV</div>
<div class="t n" style="left:336px;width:52px;top:501px;font-size:14px;text-align:center;">26.5</div>
<div class="t n" style="left:389px;width:52px;top:501px;font-size:14px;text-align:center;">40.5</div>
<div class="t b" style="left:708px;width:63px;top:500px;font-size:15px;text-align:center;">67</div>
<div class="t b" style="left:6px;width:26px;top:525px;font-size:14.5px;text-align:center;">20.</div>
<div class="t b" style="left:34px;width:198px;top:524px;font-size:15px;text-align:left;letter-spacing:0.15px">Naidīgie mazumi</div>
<div class="t n" style="left:235px;width:47px;top:525px;font-size:14px;text-align:center;">SV</div>
<div class="t n" style="left:284px;width:51px;top:525px;font-size:14px;text-align:center;">28</div>
<div class="t n" style="left:389px;width:52px;top:525px;font-size:14px;text-align:center;">35</div>
<div class="t b" style="left:708px;width:63px;top:524px;font-size:15px;text-align:center;">63</div>
<div class="t b" style="left:6px;width:26px;top:549px;font-size:14.5px;text-align:center;">21.</div>
<div class="t b" style="left:34px;width:198px;top:548px;font-size:15px;text-align:left;letter-spacing:0.15px">Pusotrs neirons</div>
<div class="t n" style="left:235px;width:47px;top:549px;font-size:14px;text-align:center;">SV</div>
<div class="t n" style="left:336px;width:52px;top:549px;font-size:14px;text-align:center;">26.5</div>
<div class="t n" style="left:389px;width:52px;top:549px;font-size:14px;text-align:center;">36</div>
<div class="t b" style="left:708px;width:63px;top:548px;font-size:15px;text-align:center;">62.5</div>
<div class="t b" style="left:6px;width:26px;top:573px;font-size:14.5px;text-align:center;">22.</div>
<div class="t b" style="left:34px;width:198px;top:572px;font-size:15px;text-align:left;letter-spacing:0.15px">Trīsarpus sievietes</div>
<div class="t n" style="left:235px;width:47px;top:573px;font-size:14px;text-align:center;">SV</div>
<div class="t n" style="left:284px;width:51px;top:573px;font-size:14px;text-align:center;">35.5</div>
<div class="t n" style="left:336px;width:52px;top:573px;font-size:14px;text-align:center;">20</div>
<div class="t b" style="left:708px;width:63px;top:572px;font-size:15px;text-align:center;">55.5</div>
<div class="t b" style="left:6px;width:26px;top:597px;font-size:14.5px;text-align:center;">23.</div>
<div class="t b" style="left:34px;width:198px;top:596px;font-size:15px;text-align:left;letter-spacing:0.15px">Lidvāveres</div>
<div class="t n" style="left:235px;width:47px;top:597px;font-size:14px;text-align:center;">SV</div>
<div class="t n" style="left:336px;width:52px;top:597px;font-size:14px;text-align:center;">24</div>
<div class="t n" style="left:389px;width:52px;top:597px;font-size:14px;text-align:center;">26.5</div>
<div class="t b" style="left:708px;width:63px;top:596px;font-size:15px;text-align:center;">50.5</div>
<div class="t b" style="left:6px;width:26px;top:621px;font-size:14.5px;text-align:center;">24.</div>
<div class="t b" style="left:34px;width:198px;top:620px;font-size:15px;text-align:left;letter-spacing:0.15px">The realest</div>
<div class="t n" style="left:235px;width:47px;top:621px;font-size:14px;text-align:center;">SV</div>
<div class="t n" style="left:284px;width:51px;top:621px;font-size:14px;text-align:center;">37.5</div>
<div class="t b" style="left:708px;width:63px;top:620px;font-size:15px;text-align:center;">37.5</div>
<div class="t b" style="left:6px;width:26px;top:645px;font-size:14.5px;text-align:center;">25.</div>
<div class="t b" style="left:34px;width:198px;top:644px;font-size:15px;text-align:left;letter-spacing:0.15px">Cuba</div>
<div class="t n" style="left:235px;width:47px;top:645px;font-size:14px;text-align:center;">SV</div>
<div class="t n" style="left:389px;width:52px;top:645px;font-size:14px;text-align:center;">26</div>
<div class="t b" style="left:708px;width:63px;top:644px;font-size:15px;text-align:center;">26</div>
<div class="t b" style="left:6px;width:26px;top:669px;font-size:14.5px;text-align:center;">26.</div>
<div class="t b" style="left:34px;width:198px;top:668px;font-size:15px;text-align:left;letter-spacing:0.15px">Trīs grami intelekta</div>
<div class="t n" style="left:235px;width:47px;top:669px;font-size:14px;text-align:center;">SV</div>
<div class="t n" style="left:336px;width:52px;top:669px;font-size:14px;text-align:center;">21.5</div>
<div class="t b" style="left:708px;width:63px;top:668px;font-size:15px;text-align:center;">21.5</div>
<div class="t b" style="left:6px;width:26px;top:693px;font-size:14.5px;text-align:center;">27.</div>
<div class="t b" style="left:34px;width:198px;top:692px;font-size:15px;text-align:left;letter-spacing:0.15px">Šoreiz uzminēsim</div>
<div class="t n" style="left:235px;width:47px;top:693px;font-size:14px;text-align:center;">SV</div>
<div class="t n" style="left:336px;width:52px;top:693px;font-size:14px;text-align:center;">17.5</div>
<div class="t b" style="left:708px;width:63px;top:692px;font-size:15px;text-align:center;">17.5</div>
<div class="t b" style="left:34px;width:267px;top:715px;font-size:11.5px;text-align:left;">Vidējie spēles punkti:</div>
<div class="t b" style="left:283.3px;width:51.0px;top:715px;font-size:11.5px;text-align:center;">37.3</div>
<div class="t b" style="left:335.3px;width:52.0px;top:715px;font-size:11.5px;text-align:center;">25.1</div>
<div class="t b" style="left:388.3px;width:52.0px;top:715px;font-size:11.5px;text-align:center;">36.8</div>
</body></html>
